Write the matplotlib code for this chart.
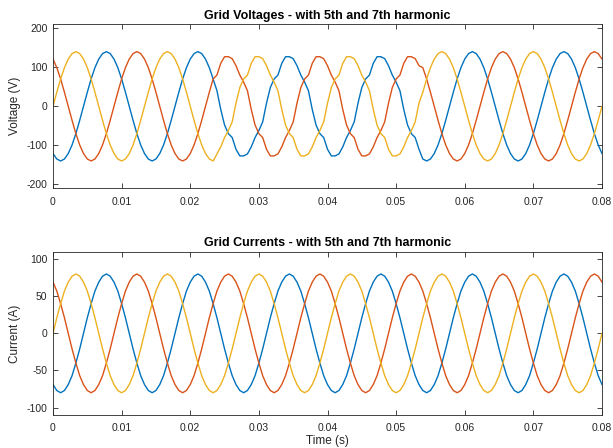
import numpy as np
import matplotlib
matplotlib.use("Agg")
import matplotlib.pyplot as plt

# Samples, 1800 samples/s (24 per 75 Hz cycle)
sample_rate = 1800

# Grid voltages (V): harmonics visible roughly from 0.024 s to 0.053 s
va = [
    -121, -135, -140, -135, -121, -99, -70, -36, 0, 36, 70, 99, 121, 135, 140, 135, 121, 99, 70, 36, 0, -36, -70, -99,
    -121, -135, -140, -135, -121, -99, -70, -36, 0, 36, 70, 99, 121, 135, 140, 135, 121, 99, 70, 40, -8, -48, -70, -80,
    -110, -127, -127, -122, -104, -80, -62, -40, 8, 48, 70, 80, 110, 127, 127, 122, 104, 80, 62, 40, -8, -48, -70, -80,
    -110, -127, -127, -122, -104, -80, -62, -40, 8, 48, 70, 80, 110, 127, 127, 122, 104, 80, 62, 40, -8, -48, -70, -80,
    -110, -135, -140, -135, -121, -99, -70, -36, 0, 36, 70, 99, 121, 135, 140, 135, 121, 99, 70, 36, 0, -36, -70, -99,
    -121, -135, -140, -135, -121, -99, -70, -36, 0, 36, 70, 99, 121, 135, 140, 135, 121, 99, 70, 36, 0, -36, -70, -99,
    -121,
]
vb = [
    121, 99, 70, 36, 0, -36, -70, -99, -121, -135, -140, -135, -121, -99, -70, -36, 0, 36, 70, 99, 121, 135, 140, 135,
    121, 99, 70, 36, 0, -36, -70, -99, -121, -135, -140, -135, -121, -99, -70, -36, 0, 36, 70, 80, 110, 127, 127, 122,
    104, 80, 62, 40, -8, -48, -70, -80, -110, -127, -127, -122, -104, -80, -62, -40, 8, 48, 70, 80, 110, 127, 127, 122,
    104, 80, 62, 40, -8, -48, -70, -80, -110, -127, -127, -122, -104, -80, -62, -40, 8, 48, 70, 80, 110, 127, 127, 122,
    104, 99, 70, 36, 0, -36, -70, -99, -121, -135, -140, -135, -121, -99, -70, -36, 0, 36, 70, 99, 121, 135, 140, 135,
    121, 99, 70, 36, 0, -36, -70, -99, -121, -135, -140, -135, -121, -99, -70, -36, 0, 36, 70, 99, 121, 135, 140, 135,
    121,
]
vc = [
    0, 36, 70, 99, 121, 135, 140, 135, 121, 99, 70, 36, 0, -36, -70, -99, -121, -135, -140, -135, -121, -99, -70, -36,
    0, 36, 70, 99, 121, 135, 140, 135, 121, 99, 70, 36, 0, -36, -70, -99, -121, -135, -140, -122, -104, -80, -62, -40,
    8, 48, 70, 80, 110, 127, 127, 122, 104, 80, 62, 40, -8, -48, -70, -80, -110, -127, -127, -122, -104, -80, -62, -40,
    8, 48, 70, 80, 110, 127, 127, 122, 104, 80, 62, 40, -8, -48, -70, -80, -110, -127, -127, -122, -104, -80, -62, -40,
    8, 36, 70, 99, 121, 135, 140, 135, 121, 99, 70, 36, 0, -36, -70, -99, -121, -135, -140, -135, -121, -99, -70, -36,
    0, 36, 70, 99, 121, 135, 140, 135, 121, 99, 70, 36, 0, -36, -70, -99, -121, -135, -140, -135, -121, -99, -70, -36,
    0,
]

# Grid currents (A)
ia = [
    -69, -77, -80, -77, -69, -57, -40, -21, 0, 21, 40, 57, 69, 77, 80, 77, 69, 57, 40, 21, 0, -21, -40, -57,
    -69, -77, -80, -77, -69, -57, -40, -21, 0, 21, 40, 57, 69, 77, 80, 77, 69, 57, 40, 21, 0, -21, -40, -57,
    -69, -77, -80, -77, -69, -57, -40, -21, 0, 21, 40, 57, 69, 77, 80, 77, 69, 57, 40, 21, 0, -21, -40, -57,
    -69, -77, -80, -77, -69, -57, -40, -21, 0, 21, 40, 57, 69, 77, 80, 77, 69, 57, 40, 21, 0, -21, -40, -57,
    -69, -77, -80, -77, -69, -57, -40, -21, 0, 21, 40, 57, 69, 77, 80, 77, 69, 57, 40, 21, 0, -21, -40, -57,
    -69, -77, -80, -77, -69, -57, -40, -21, 0, 21, 40, 57, 69, 77, 80, 77, 69, 57, 40, 21, 0, -21, -40, -57,
    -69,
]
ib = [
    69, 57, 40, 21, 0, -21, -40, -57, -69, -77, -80, -77, -69, -57, -40, -21, 0, 21, 40, 57, 69, 77, 80, 77,
    69, 57, 40, 21, 0, -21, -40, -57, -69, -77, -80, -77, -69, -57, -40, -21, 0, 21, 40, 57, 69, 77, 80, 77,
    69, 57, 40, 21, 0, -21, -40, -57, -69, -77, -80, -77, -69, -57, -40, -21, 0, 21, 40, 57, 69, 77, 80, 77,
    69, 57, 40, 21, 0, -21, -40, -57, -69, -77, -80, -77, -69, -57, -40, -21, 0, 21, 40, 57, 69, 77, 80, 77,
    69, 57, 40, 21, 0, -21, -40, -57, -69, -77, -80, -77, -69, -57, -40, -21, 0, 21, 40, 57, 69, 77, 80, 77,
    69, 57, 40, 21, 0, -21, -40, -57, -69, -77, -80, -77, -69, -57, -40, -21, 0, 21, 40, 57, 69, 77, 80, 77,
    69,
]
ic = [
    0, 21, 40, 57, 69, 77, 80, 77, 69, 57, 40, 21, 0, -21, -40, -57, -69, -77, -80, -77, -69, -57, -40, -21,
    0, 21, 40, 57, 69, 77, 80, 77, 69, 57, 40, 21, 0, -21, -40, -57, -69, -77, -80, -77, -69, -57, -40, -21,
    0, 21, 40, 57, 69, 77, 80, 77, 69, 57, 40, 21, 0, -21, -40, -57, -69, -77, -80, -77, -69, -57, -40, -21,
    0, 21, 40, 57, 69, 77, 80, 77, 69, 57, 40, 21, 0, -21, -40, -57, -69, -77, -80, -77, -69, -57, -40, -21,
    0, 21, 40, 57, 69, 77, 80, 77, 69, 57, 40, 21, 0, -21, -40, -57, -69, -77, -80, -77, -69, -57, -40, -21,
    0, 21, 40, 57, 69, 77, 80, 77, 69, 57, 40, 21, 0, -21, -40, -57, -69, -77, -80, -77, -69, -57, -40, -21,
    0,
]

x_ticks = [0, 0.01, 0.02, 0.03, 0.04, 0.05, 0.06, 0.07, 0.08]
x_tick_labels = ["0", "0.01", "0.02", "0.03", "0.04", "0.05", "0.06", "0.07", "0.08"]
v_ticks = [-200, -100, 0, 100, 200]
i_ticks = [-100, -50, 0, 50, 100]

time = np.arange(len(va)) / sample_rate

# MATLAB default line colours
colors = ["#0072BD", "#D95319", "#EDB120"]
axis_color = "#262626"

plt.rcParams["font.family"] = ["Liberation Sans", "DejaVu Sans"]
plt.rcParams["axes.unicode_minus"] = False

fig = plt.figure(figsize=(6.13, 4.48), dpi=100)
ax1 = fig.add_axes([53 / 613, 1 - 188.3 / 448, 549 / 613, 164 / 448])
ax2 = fig.add_axes([53 / 613, 1 - 415 / 448, 549 / 613, 163.3 / 448])

for ax, series, yticks, ylim in [
    (ax1, [va, vb, vc], v_ticks, (-210, 210)),
    (ax2, [ia, ib, ic], i_ticks, (-110, 110)),
]:
    for values, c in zip(series, colors):
        ax.plot(time, values, color=c, linewidth=1.0)
    ax.set_xlim(0, 0.08)
    ax.set_ylim(*ylim)
    ax.set_xticks(x_ticks)
    ax.set_xticklabels(x_tick_labels)
    ax.set_yticks(yticks)
    ax.set_yticklabels([str(v) for v in yticks])
    ax.tick_params(direction="in", top=True, right=True, length=3.5,
                   width=0.6, labelsize=7.5, colors=axis_color)
    ax.tick_params(axis="x", pad=6)
    ax.tick_params(axis="y", pad=4)
    for s in ax.spines.values():
        s.set_color(axis_color)
        s.set_linewidth(0.6)

ax1.set_title("Grid Voltages - with 5th and 7th harmonic", fontsize=9,
              fontweight="bold", pad=4)
ax1.set_ylabel("Voltage (V)", fontsize=8.5, color=axis_color)
ax2.set_title("Grid Currents - with 5th and 7th harmonic", fontsize=9,
              fontweight="bold", pad=4)
ax2.set_ylabel("Current (A)", fontsize=8.5, color=axis_color)
ax2.set_xlabel("Time (s)", fontsize=8.5, color=axis_color, labelpad=1)

fig.savefig("out.png", dpi=100)
